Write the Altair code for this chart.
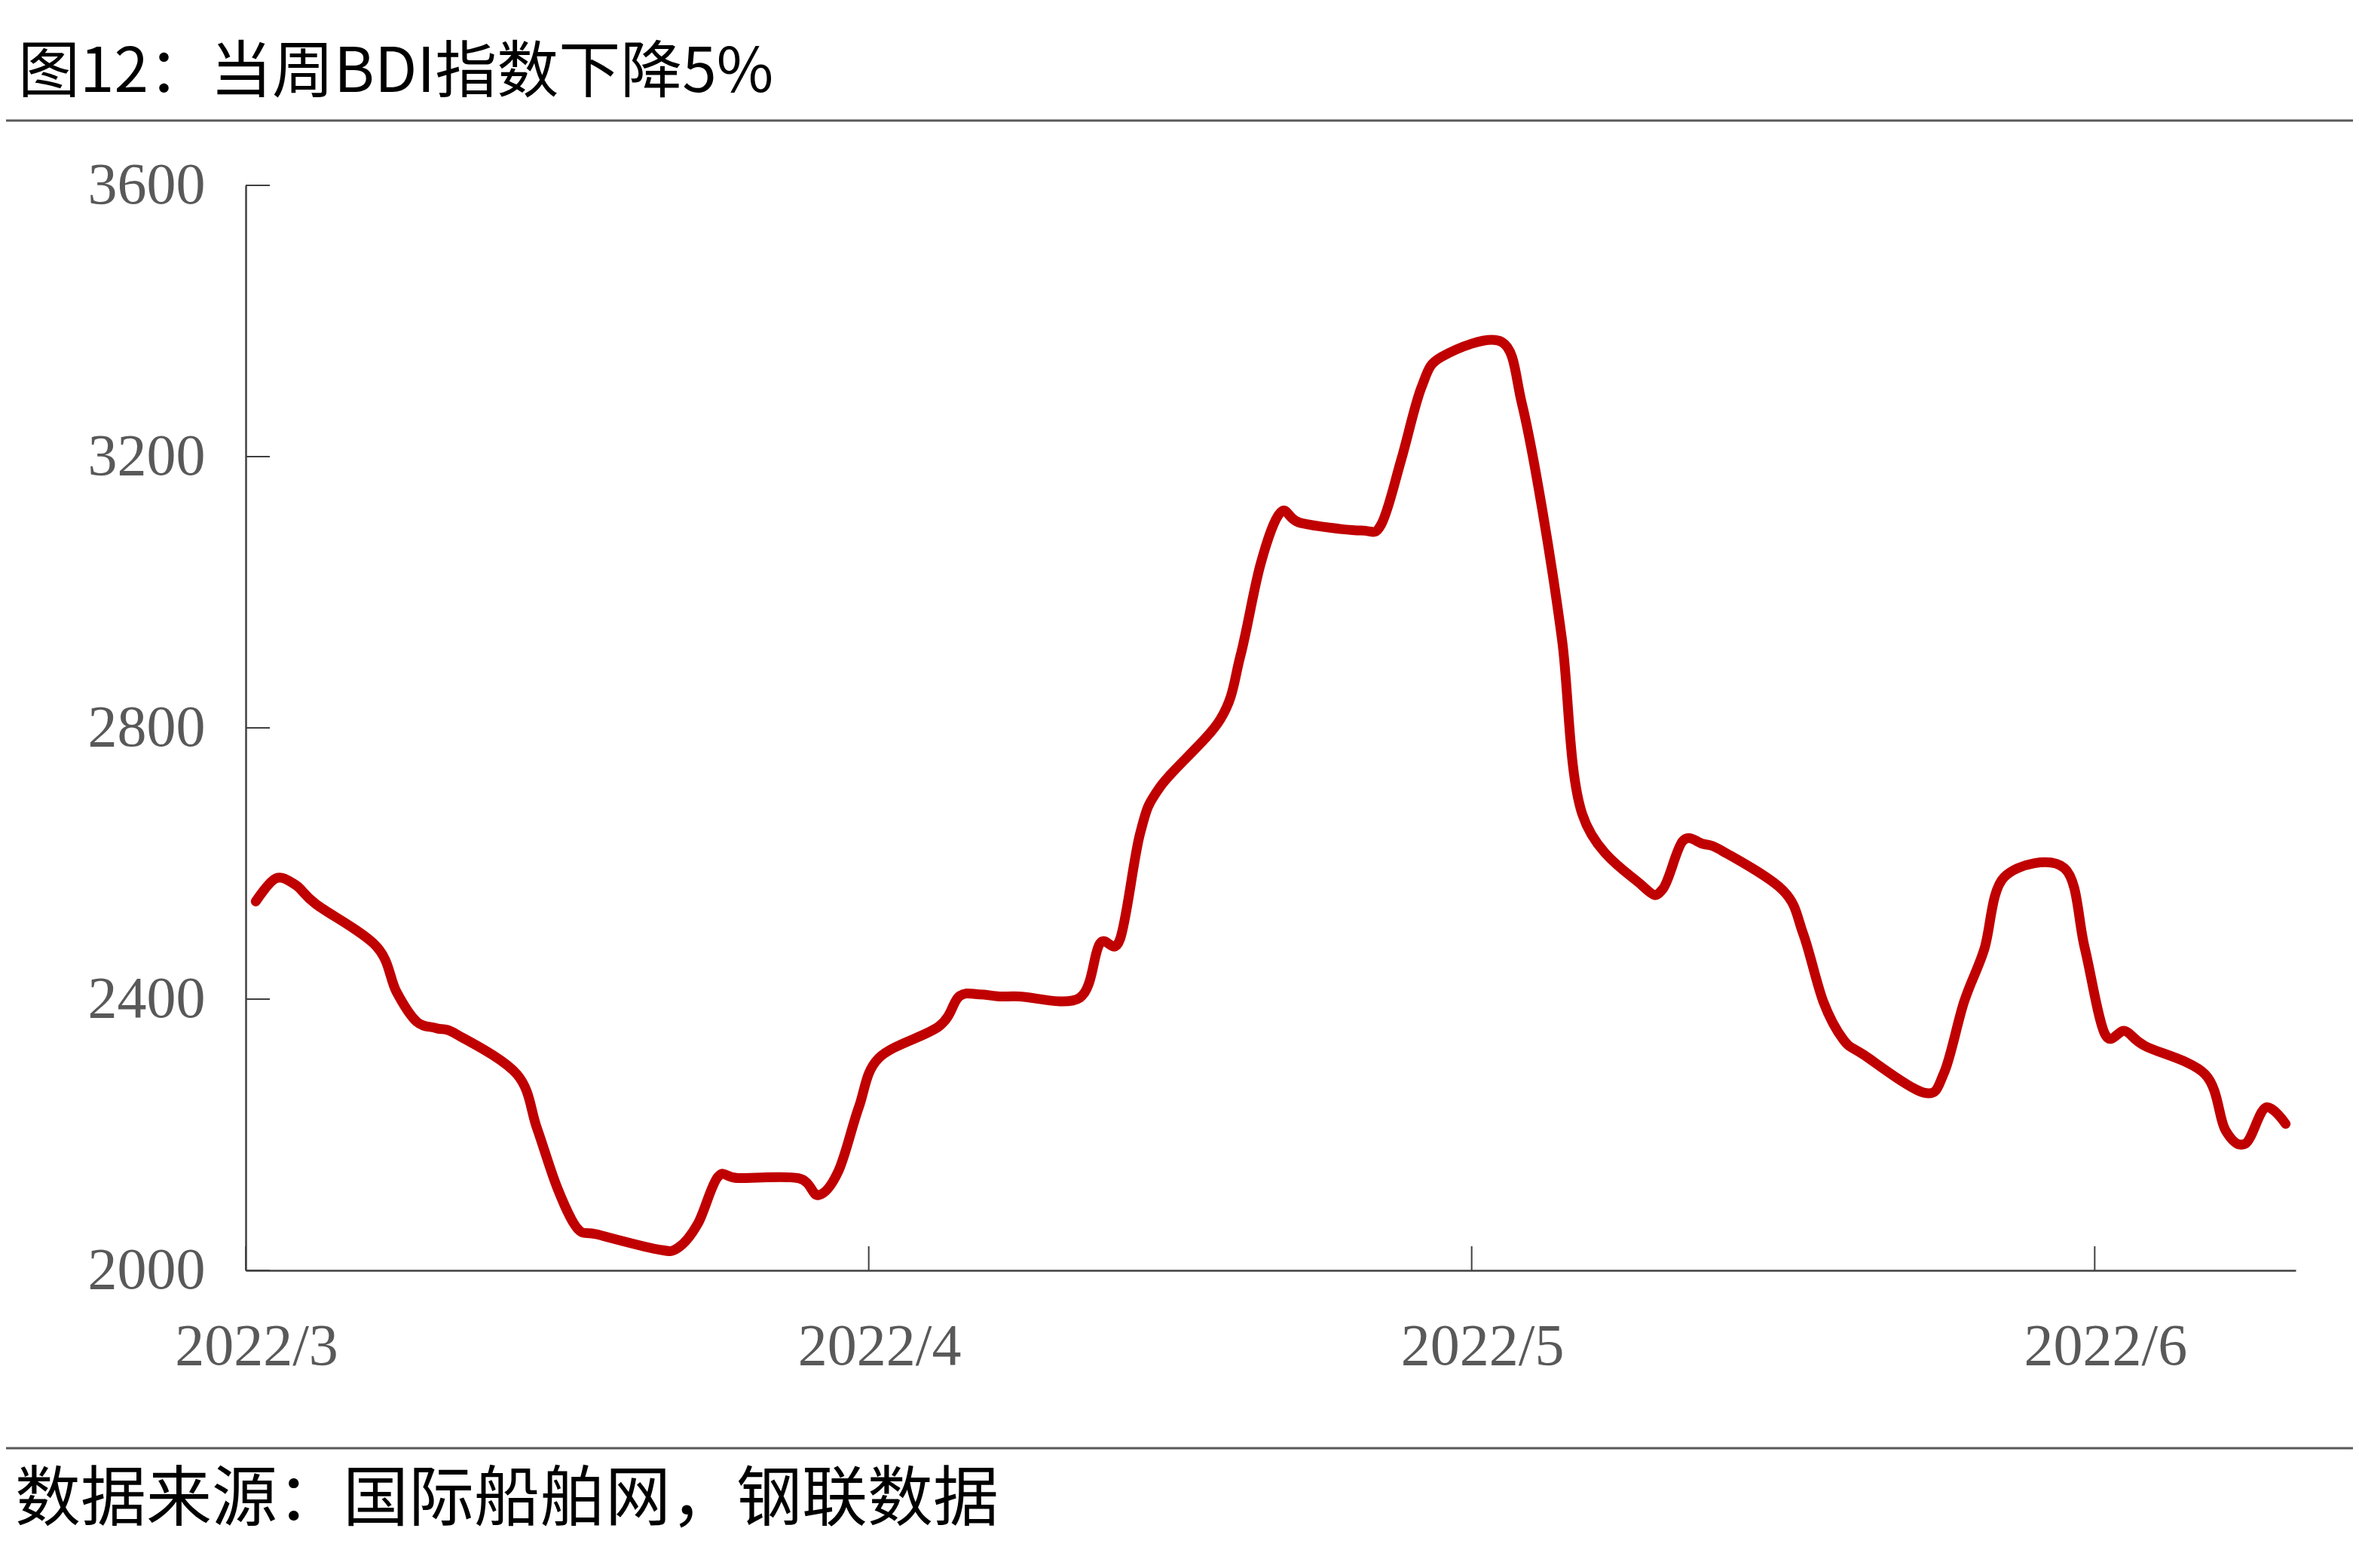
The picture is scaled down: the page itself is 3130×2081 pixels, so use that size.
import altair as alt
import pandas as pd

title_text = "图12：当周BDI指数下降5%"
source_text = "数据来源：国际船舶网，钢联数据"

dates = [
    "2022-03-01", "2022-03-02", "2022-03-03", "2022-03-04",
    "2022-03-07", "2022-03-08", "2022-03-09", "2022-03-10", "2022-03-11",
    "2022-03-14", "2022-03-15", "2022-03-16", "2022-03-17", "2022-03-18",
    "2022-03-21", "2022-03-22", "2022-03-23", "2022-03-24", "2022-03-25",
    "2022-03-28", "2022-03-29", "2022-03-30", "2022-03-31",
    "2022-04-01",
    "2022-04-04", "2022-04-05", "2022-04-06", "2022-04-07", "2022-04-08",
    "2022-04-11", "2022-04-12", "2022-04-13", "2022-04-14", "2022-04-15",
    "2022-04-18", "2022-04-19", "2022-04-20", "2022-04-21", "2022-04-22",
    "2022-04-25", "2022-04-26", "2022-04-27", "2022-04-28", "2022-04-29",
    "2022-05-02", "2022-05-03", "2022-05-04", "2022-05-05", "2022-05-06",
    "2022-05-09", "2022-05-10", "2022-05-11", "2022-05-12", "2022-05-13",
    "2022-05-16", "2022-05-17", "2022-05-18", "2022-05-19", "2022-05-20",
    "2022-05-23", "2022-05-24", "2022-05-25", "2022-05-26", "2022-05-27",
    "2022-05-30", "2022-05-31",
    "2022-06-01", "2022-06-02", "2022-06-03",
    "2022-06-06", "2022-06-07", "2022-06-08", "2022-06-09", "2022-06-10",
]
bdi = [
    2544, 2578, 2568, 2540,
    2478, 2411, 2367, 2357, 2348,
    2289, 2209, 2122, 2062, 2053,
    2031, 2033, 2069, 2138, 2136,
    2136, 2111, 2147, 2240,
    2313,
    2360, 2404, 2407, 2404, 2404,
    2402, 2482, 2488, 2644, 2713,
    2813, 2907, 3042, 3118, 3102,
    3091, 3100, 3196, 3302, 3347,
    3369, 3278, 3124, 2929, 2673,
    2567, 2562, 2633, 2629, 2618,
    2560, 2496, 2396, 2340, 2318,
    2262, 2291, 2396, 2473, 2580,
    2593, 2476,
    2349, 2353, 2331,
    2289, 2207, 2187, 2240, 2216,
]

y_ticks = [2000, 2400, 2800, 3200, 3600]
x_tick_months = [3, 4, 5, 6]

W, H = 2720, 1440
AXIS_COLOR = "#404040"
LABEL_COLOR = "#595959"

df = pd.DataFrame({"date": [d + "T12:00:00" for d in dates], "bdi": bdi})
xtick_df = pd.DataFrame({"date": ["2022-%02d-01T00:00:00" % m for m in x_tick_months]})
ytick_df = pd.DataFrame({"bdi": y_ticks})

x_scale = alt.Scale(domain=[alt.DateTime(year=2022, month=3, date=1),
                            alt.DateTime(year=2022, month=6, date=11)])
y_scale = alt.Scale(domain=[2000, 3600], nice=False, zero=False)

line = alt.Chart(df).mark_line(
    color="#C00000", strokeWidth=13, interpolate="cardinal",
    strokeCap="round", strokeJoin="round"
).encode(
    x=alt.X("date:T", scale=x_scale, title="",
            axis=alt.Axis(values=[alt.DateTime(year=2022, month=m, date=1) for m in x_tick_months],
                          format="%Y/%-m", labelFont="Liberation Serif", labelFontSize=78,
                          labelColor=LABEL_COLOR, labelPadding=62, labelOffset=14,
                          labelFlush=False, labelOverlap=False, labelLimit=1000,
                          ticks=False, tickSize=0, grid=False,
                          domainColor=AXIS_COLOR, domainWidth=2.5)),
    y=alt.Y("bdi:Q", scale=y_scale, title="",
            axis=alt.Axis(values=y_ticks, format="d", labelFont="Liberation Serif", labelFontSize=78,
                          labelColor=LABEL_COLOR, labelPadding=54, labelFlush=False,
                          labelOverlap=False, labelLimit=1000, ticks=False, tickSize=0, grid=False,
                          domainColor=AXIS_COLOR, domainWidth=2.5)),
)

xticks = alt.Chart(xtick_df).mark_rule(color=AXIS_COLOR, strokeWidth=2).encode(
    x=alt.X("date:T", scale=x_scale), y=alt.value(H), y2=alt.value(H - 32)
)
yticks = alt.Chart(ytick_df).mark_rule(color=AXIS_COLOR, strokeWidth=2).encode(
    y=alt.Y("bdi:Q", scale=y_scale), x=alt.value(0), x2=alt.value(32)
)

title = alt.Chart(pd.DataFrame({"t": [title_text]})).mark_text(
    align="left", baseline="alphabetic", font="Noto Sans CJK SC", fontSize=82, color="#000000"
).encode(text="t:N", x=alt.value(-302), y=alt.value(-124))

source = alt.Chart(pd.DataFrame({"t": [source_text]})).mark_text(
    align="left", baseline="alphabetic", font="Noto Sans CJK SC", fontSize=87, color="#000000"
).encode(text="t:N", x=alt.value(-306), y=alt.value(1772))

sep_top = alt.Chart(pd.DataFrame({"k": [0]})).mark_rule(color="#595959", strokeWidth=3).encode(
    x=alt.value(-318), x2=alt.value(W + 76), y=alt.value(-86)
)
sep_bot = alt.Chart(pd.DataFrame({"k": [1]})).mark_rule(color="#595959", strokeWidth=3).encode(
    x=alt.value(-318), x2=alt.value(W + 76), y=alt.value(1676)
)

chart = alt.layer(line, xticks, yticks, title, source, sep_top, sep_bot).properties(
    width=W, height=H,
    autosize=alt.AutoSizeParams(type="none"),
    padding={"left": 318, "top": 238, "right": 76, "bottom": 387},
).configure_view(strokeWidth=0)

chart.save("out.html", embed_options={"renderer": "svg", "actions": False})
